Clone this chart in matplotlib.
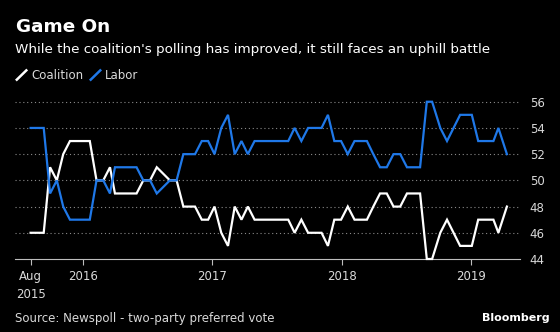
import numpy as np
import pandas as pd
import matplotlib
matplotlib.use("Agg")
import matplotlib.pyplot as plt
import matplotlib.dates as mdates
from matplotlib.lines import Line2D

# Newspoll two-party preferred vote (%)
poll_dates = [
    "2015-08-07", "2015-09-13", "2015-10-01", "2015-10-20", "2015-11-07",
    "2015-11-26", "2016-01-21", "2016-02-09", "2016-02-28", "2016-03-18",
    "2016-04-01", "2016-06-01", "2016-06-20", "2016-07-09", "2016-07-28",
    "2016-09-03", "2016-09-22", "2016-10-11", "2016-11-13", "2016-12-02",
    "2016-12-20", "2017-01-07", "2017-01-26", "2017-02-14", "2017-03-05",
    "2017-03-24", "2017-04-11", "2017-04-30", "2017-08-03", "2017-08-21",
    "2017-09-09", "2017-09-28", "2017-11-05", "2017-11-23", "2017-12-11",
    "2017-12-30", "2018-01-18", "2018-02-06", "2018-03-13", "2018-03-31",
    "2018-04-19", "2018-05-08", "2018-05-27", "2018-06-15", "2018-07-04",
    "2018-08-10", "2018-08-29", "2018-09-13", "2018-10-06", "2018-10-25",
    "2018-12-01", "2019-01-03", "2019-01-21", "2019-03-05", "2019-03-19",
    "2019-04-12",
]
labor = [
    54, 54, 49, 50, 48, 47, 47, 50, 50, 49,
    51, 51, 50, 50, 49, 50, 50, 52, 52, 53,
    53, 52, 54, 55, 52, 53, 52, 53, 53, 54,
    53, 54, 54, 55, 53, 53, 52, 53, 53, 52,
    51, 51, 52, 52, 51, 51, 56, 56, 54, 53,
    55, 55, 53, 53, 54, 52,
]
coalition = [
    46, 46, 51, 50, 52, 53, 53, 50, 50, 51,
    49, 49, 50, 50, 51, 50, 50, 48, 48, 47,
    47, 48, 46, 45, 48, 47, 48, 47, 47, 46,
    47, 46, 46, 45, 47, 47, 48, 47, 47, 48,
    49, 49, 48, 48, 49, 49, 44, 44, 46, 47,
    45, 45, 47, 47, 46, 48,
]
x_ticks = ["2015-08-07", "2016-01-01", "2017-01-01", "2018-01-01", "2019-01-01"]
x_tick_labels = ["Aug\n2015", "2016", "2017", "2018", "2019"]
y_ticks = [44, 46, 48, 50, 52, 54, 56]

dates = pd.to_datetime(poll_dates)

BG = "#000000"
BLUE = "#1f78e8"
TXT = "#d9d9d9"

fig = plt.figure(figsize=(5.6, 3.32), dpi=100, facecolor=BG)
ax = fig.add_axes([0.0268, 0.2199, 0.9018, 0.4855], facecolor=BG)

ax.plot(dates, coalition, color="white", lw=1.6, solid_joinstyle="miter",
        clip_on=False, zorder=3)
ax.plot(dates, labor, color=BLUE, lw=1.6, solid_joinstyle="miter",
        clip_on=False, zorder=3)

ax.set_xlim(pd.Timestamp("2015-06-24"), pd.Timestamp("2019-05-19"))
ax.set_ylim(44, 56.3)

# dotted gridlines, right-hand labels
ax.set_yticks(y_ticks)
ax.yaxis.tick_right()
ax.tick_params(axis="y", length=0, pad=7, labelsize=8.5, labelcolor=TXT)
for y in y_ticks[1:]:
    ax.axhline(y, color="#8a8a8a", lw=0.8, ls=(0, (1, 2.5)), zorder=1)

ax.set_xticks(pd.to_datetime(x_ticks))
ax.set_xticklabels(x_tick_labels, linespacing=1.45)
ax.tick_params(axis="x", length=4, width=0.8, color="#bdbdbd", pad=4,
               labelsize=8.5, labelcolor=TXT)

for side in ["top", "left", "right"]:
    ax.spines[side].set_visible(False)
ax.spines["bottom"].set_color("#bdbdbd")
ax.spines["bottom"].set_linewidth(0.8)

# header
fig.text(0.028, 0.903, "Game On", color="white", fontsize=13.2,
         fontweight="bold", va="baseline")
fig.text(0.027, 0.839,
         "While the coalition's polling has improved, it still faces an uphill battle",
         color="white", fontsize=9.7, va="baseline")

# legend with slanted swatches
leg_y = 0.774
for x0, col, label in [(0.030, "white", "Coalition"), (0.162, BLUE, "Labor")]:
    fig.add_artist(Line2D([x0, x0 + 0.017], [leg_y - 0.014, leg_y + 0.014],
                          color=col, lw=1.8, transform=fig.transFigure))
    fig.text(x0 + 0.026, leg_y, label, color=TXT, fontsize=8.5, va="center")

fig.text(0.027, 0.042, "Source: Newspoll - two-party preferred vote",
         color=TXT, fontsize=8.5, va="center")
fig.text(0.982, 0.042, "Bloomberg", color="white", fontsize=8,
         fontweight="bold", va="center", ha="right")

fig.savefig("out.png", dpi=100, facecolor=BG)
